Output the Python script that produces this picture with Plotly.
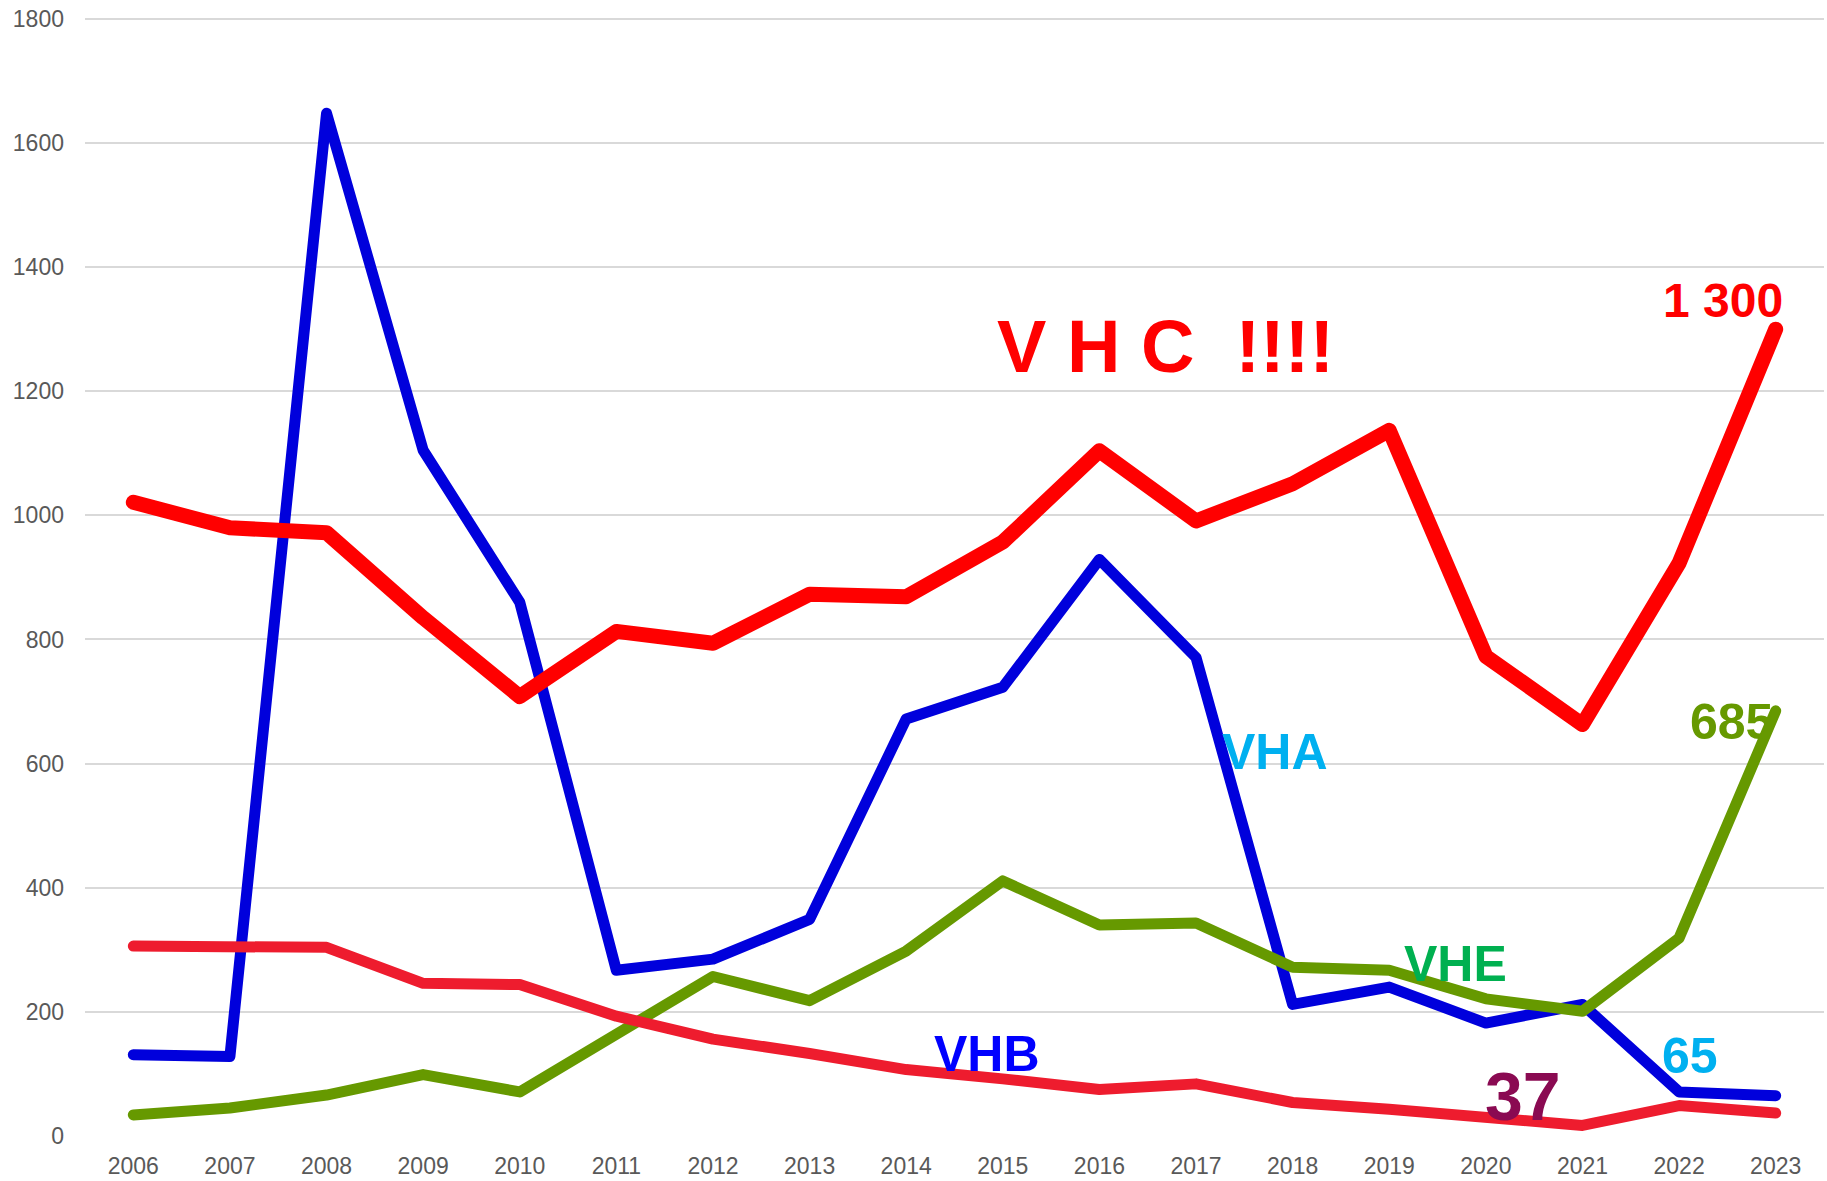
import plotly.graph_objects as go

years = [str(y) for y in range(2006, 2024)]

vhc = [1021, 980, 972, 835, 708, 813, 794, 873, 869, 957, 1104, 991, 1051, 1137, 773, 663, 923, 1300]
vha = [131, 128, 1648, 1105, 860, 267, 285, 349, 672, 723, 929, 771, 212, 240, 182, 212, 71, 65]
vhe = [34, 45, 66, 99, 71, 165, 257, 218, 298, 411, 340, 343, 272, 267, 221, 201, 319, 685]
vhb = [306, 306, 304, 246, 244, 193, 156, 133, 107, 92, 75, 84, 54, 43, 28, 17, 49, 37]

y_ticks = [0, 200, 400, 600, 800, 1000, 1200, 1400, 1600, 1800]

fig = go.Figure()
fig.add_trace(go.Scatter(x=years, y=vha, mode="lines", line=dict(color="#0000DC", width=11), name="VHA"))
fig.add_trace(go.Scatter(x=years, y=vhe, mode="lines", line=dict(color="#669900", width=11), name="VHE"))
fig.add_trace(go.Scatter(x=years, y=vhb, mode="lines", line=dict(color="#EE1C2E", width=11), name="VHB"))
fig.add_trace(go.Scatter(x=years, y=vhc, mode="lines", line=dict(color="#FF0000", width=15), name="VHC"))

F = "Liberation Sans, Arial, sans-serif"

def ann(x, y, text, color, size, family=F):
    fig.add_annotation(x=x, y=y, xref="x", yref="y", text="<b>" + text + "</b>",
                       showarrow=False, xanchor="center", yanchor="middle",
                       font=dict(family=family, size=size, color=color))

ann(10.68, 1272, "V H C\u00a0 !!!!", "#FF0000", 74)
ann(16.45, 1346, "1 300", "#FF0000", 48)
ann(16.54, 667, "685", "#669900", 50)
ann(11.82, 618, "VHA", "#00B0F0", 50)
ann(13.69, 277, "VHE", "#00B050", 50)
ann(8.84, 132, "VHB", "#0000FF", 50)
ann(16.11, 129, "65", "#00B0F0", 50)
ann(14.38, 64, "37", "#8A0A52", 68)

fig.update_layout(
    width=1827, height=1181,
    margin=dict(l=85, r=3, t=17, b=45),
    plot_bgcolor="white", paper_bgcolor="white",
    showlegend=False,
    font=dict(family=F, size=23, color="#595959"),
)
fig.update_xaxes(type="category", range=[-0.5, 17.5], showgrid=False, showline=False,
                 ticks="", ticklabelstandoff=14, tickfont=dict(size=23, color="#595959"))
fig.update_yaxes(range=[0, 1803], tickvals=y_ticks, showgrid=True, gridcolor="#D9D9D9",
                 gridwidth=2, zeroline=False, showline=False, ticks="", ticklabelstandoff=20,
                 tickfont=dict(size=23, color="#595959"))

post = """
document.body.style.margin='0';
document.querySelectorAll('path.js-line').forEach(function(p){
  p.style.strokeLinejoin='round'; p.style.strokeLinecap='round';
});
"""
fig.write_html("out.html", post_script=post, config={"displayModeBar": False})
